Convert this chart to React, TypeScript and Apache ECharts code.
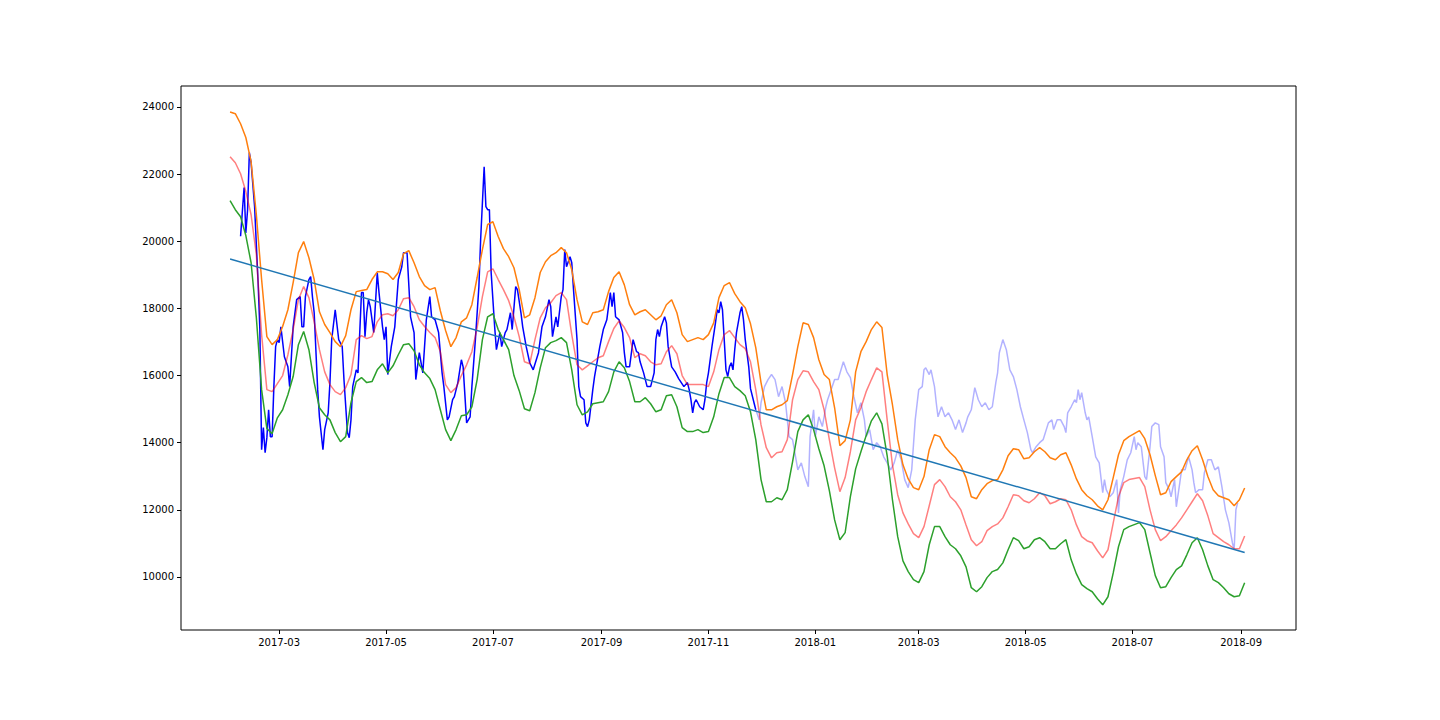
import React, { useEffect, useRef } from "react";
import * as echarts from "echarts";

// ---- data ----
const START_DATE = [2017, 2, 1]; // first sample of the rolling bands (year, month, day)
const BAND_STEP_DAYS = 3;

const upperBand = [
  23850, 23800, 23500, 23090, 22370, 20790, 18860, 17160, 16920, 17070,
  17460, 17960, 18770, 19660, 19990, 19510, 18860, 17900, 17520, 17280,
  17010, 16860, 17190, 17960, 18500, 18530, 18560, 18860, 19090, 19090,
  19030, 18860, 19070, 19630, 19720, 19360, 18950, 18680, 18560, 18620,
  17930, 17340, 16860, 17130, 17600, 17720, 18110, 18920, 19750, 20500,
  20580, 20140, 19780, 19540, 19210, 18560, 17720, 17810, 18320, 19070,
  19390, 19570, 19660, 19810, 19660, 19150, 18260, 17600, 17520, 17870,
  17900, 17960, 18500, 18920, 19090, 18700, 18110, 17810, 17900, 17960,
  17810, 17660, 17780, 18110, 18260, 17870, 17220, 17010, 17070, 17130,
  17070, 17220, 17570, 18320, 18680, 18770, 18440, 18200, 18020, 17540,
  16830, 15790, 14980, 14980, 15070, 15130, 15250, 16030, 16860, 17570,
  17520, 17130, 16470, 16030, 15880, 15040, 13910, 14060, 14680, 16110,
  16710, 17010, 17370, 17600, 17430, 16030, 15130, 14090, 13340, 12920,
  12660, 12600, 12990, 13790, 14240, 14180, 13880, 13700, 13550, 13310,
  12960, 12390, 12330, 12600, 12780, 12870, 12900, 13190, 13610, 13820,
  13790, 13520, 13550, 13730, 13850, 13730, 13550, 13490, 13640, 13700,
  13340, 12920, 12600, 12420, 12300, 12120, 12000, 12300, 12960, 13640,
  14060, 14180, 14270, 14360, 14120, 13640, 13020, 12450, 12510, 12840,
  12990, 13130, 13490, 13760, 13910, 13490, 12990, 12600, 12420, 12360,
  12300, 12120, 12300, 12650,
];

const rollingMean = [
  22520, 22340, 22010, 21480, 20790, 19600, 17220, 15580, 15520, 15760,
  16000, 16620, 17370, 18260, 18650, 18320, 17600, 16770, 16110, 15730,
  15520, 15430, 15640, 16030, 17070, 17190, 17100, 17160, 17600, 17810,
  17840, 17780, 17960, 18290, 18320, 18050, 17660, 17460, 17280, 17130,
  16710, 15730, 15490, 15640, 16000, 16320, 16710, 17430, 18350, 19090,
  19180, 18860, 18560, 18230, 17750, 17160, 16410, 16350, 17070, 17720,
  18020, 18170, 18380, 18470, 18260, 17220, 16320, 16170, 16290, 16410,
  16530, 16590, 17010, 17400, 17630, 17430, 17130, 16530, 16650, 16590,
  16410, 16320, 16350, 16710, 16890, 16650, 16000, 15730, 15730, 15730,
  15730, 15670, 16110, 16770, 17220, 17340, 17130, 16920, 16800, 16410,
  15580, 14530, 13850, 13550, 13700, 13730, 14090, 15280, 15880, 16140,
  16110, 15820, 15580, 14980, 14090, 13250, 12540, 12960, 13730, 14680,
  15040, 15520, 15880, 16230, 16110, 14680, 13340, 12450, 11910, 11580,
  11290, 11170, 11500, 12120, 12750, 12900, 12690, 12390, 12240, 12000,
  11550, 11110, 10930, 11050, 11380, 11500, 11580, 11760, 12090, 12450,
  12420, 12270, 12210, 12330, 12510, 12420, 12180, 12240, 12330, 12300,
  12000, 11550, 11200, 11080, 11020, 10780, 10570, 10810, 11610, 12390,
  12810, 12900, 12930, 12960, 12690, 12000, 11410, 11080, 11200, 11380,
  11550, 11760, 12000, 12240, 12480, 12270, 11820, 11290, 11170, 11050,
  10960, 10840, 10840, 11220,
];

const lowerBand = [
  21210, 20940, 20730, 20170, 19360, 17720, 15580, 14420, 14270, 14740,
  14980, 15430, 15970, 16920, 17310, 16770, 15790, 15040, 14830, 14680,
  14300, 14030, 14180, 15190, 15820, 15940, 15790, 15820, 16170, 16350,
  16080, 16290, 16620, 16920, 16950, 16740, 16320, 16080, 15910, 15580,
  14980, 14390, 14060, 14390, 14800, 14830, 15070, 15880, 17070, 17750,
  17840, 17370, 17070, 16770, 16000, 15550, 15010, 14950, 15490, 16230,
  16830, 16980, 17040, 17130, 16980, 16170, 15130, 14830, 14920, 15160,
  15190, 15220, 15520, 16110, 16410, 16230, 15820, 15220, 15220, 15340,
  15160, 14920, 14980, 15400, 15430, 15070, 14450, 14330, 14330, 14390,
  14300, 14330, 14770, 15460, 15940, 15940, 15670, 15550, 15400, 14920,
  14090, 12900, 12240, 12240, 12360, 12300, 12600, 13430, 14330, 14680,
  14830, 14390, 13820, 13310, 12570, 11700, 11110, 11320, 12390, 13220,
  13730, 14210, 14650, 14890, 14560, 13610, 12300, 11200, 10480, 10160,
  9920, 9830, 10160, 10960, 11500, 11500, 11200, 10960, 10840, 10630,
  10300, 9680, 9560, 9710, 9980, 10160, 10220, 10420, 10810, 11170,
  11080, 10840, 10900, 11110, 11170, 11050, 10840, 10840, 10990, 11110,
  10510, 10090, 9770, 9650, 9560, 9350, 9170, 9410, 10120, 10900,
  11410, 11500, 11560, 11620, 11410, 10720, 10040, 9680, 9710, 9980,
  10220, 10330, 10660, 11020, 11170, 10810, 10330, 9920, 9830, 9680,
  9500, 9410, 9440, 9830,
];

// observed series (days after START_DATE)
const trainDays = [
  6, 8, 9, 10, 11, 12, 14, 16, 17, 18, 19, 20, 21, 22, 23, 24, 25, 26, 27, 28,
  29, 31, 33, 34, 36, 38, 40, 41, 42, 43, 45, 46, 47, 48, 50, 51, 53, 54, 56, 57,
  58, 60, 62, 64, 65, 67, 68, 69, 70, 72, 73, 75, 76, 77, 78, 79, 80, 82, 84, 85,
  87, 88, 89, 90, 92, 94, 96, 98, 99, 101, 103, 105, 106, 108, 110, 112, 114, 115, 117, 119,
  121, 122, 124, 125, 127, 128, 130, 132, 133, 135, 137, 138, 140, 142, 143, 145, 146, 147, 148, 149,
  151, 152, 154, 155, 157, 158, 160, 161, 163, 164, 166, 167, 169, 171, 173, 176, 178, 180, 182, 183,
  184, 186, 187, 189, 190, 191, 192, 194, 195, 196, 198, 199, 200, 202, 203, 204, 205, 207, 208, 211,
  213, 215, 217, 218, 219, 220, 222, 224, 225, 226, 228, 230, 232, 233, 234, 236, 238, 240, 242, 243,
  244, 245, 246, 248, 249, 250, 252, 254, 256, 259, 261, 262, 263, 264, 265, 266, 268, 270, 271, 272,
  273, 275, 277, 278, 279, 280, 281, 282, 283, 284, 285, 286, 287, 288, 289, 291, 292, 293, 294, 296,
  297, 299, 300,
];
const trainValues = [
  20150, 21600, 20250, 20940, 22640, 22340, 21030, 18770, 17370, 13790, 14450, 13700, 14150, 14980, 14180, 14180, 15670, 16860, 17070, 16980,
  17450, 16560, 16260, 15670, 17450, 18260, 18350, 17450, 17450, 18350, 18860, 18950, 18350, 17870, 15580, 14770, 13790, 14390, 14890, 15790,
  17070, 17960, 17070, 16860, 15880, 14300, 14150, 14680, 15670, 16170, 16080, 18470, 18470, 17160, 17870, 18260, 18050, 17280, 19060, 18470,
  17450, 17070, 17450, 16030, 16860, 17450, 18860, 19240, 19660, 19660, 17750, 17280, 15880, 16680, 16080, 17660, 18350, 17750, 17660, 17280,
  16080, 15670, 14680, 14770, 15280, 15370, 15790, 16470, 16260, 14590, 14770, 15670, 17070, 18650, 20050, 22220, 21030, 20940, 20940, 19060,
  17450, 16770, 17280, 16860, 17280, 17370, 17870, 17370, 18650, 18560, 17870, 17450, 16860, 16380, 16170, 16680, 17450, 17750, 18260, 18050,
  17160, 17750, 17450, 18350, 18560, 19750, 19240, 19540, 19360, 18560, 17070, 15670, 15370, 15280, 14590, 14480, 14680, 15580, 15970, 16860,
  17370, 17660, 18470, 18050, 18470, 17750, 17660, 17280, 16680, 16260, 16260, 17070, 16710, 16680, 16410, 16080, 15670, 15670, 16080, 17070,
  17370, 17160, 17450, 17750, 17570, 16860, 16260, 16110, 15910, 15670, 15790, 15580, 15280, 14890, 15190, 15280, 15070, 14980, 15280, 15790,
  16080, 16860, 17570, 17960, 17870, 18200, 17960, 17070, 16170, 15970, 16260, 16380, 16170, 16770, 17280, 17870, 18050, 17660, 17070, 16260,
  15610, 15190, 14980,
];

const testDays = [
  300, 302, 303, 305, 307, 309, 311, 313, 315, 317, 319, 321, 322, 324, 326, 328, 330, 331, 333, 334,
  336, 338, 340, 341, 343, 345, 347, 350, 352, 354, 356, 358, 360, 362, 363, 365, 367, 369, 371, 373,
  375, 377, 379, 381, 383, 385, 387, 389, 391, 393, 395, 396, 397, 399, 400, 402, 403, 404, 406, 408,
  410, 412, 414, 416, 418, 420, 421, 423, 425, 427, 429, 431, 433, 435, 437, 438, 439, 441, 443, 445,
  447, 449, 451, 453, 455, 457, 458, 460, 462, 464, 467, 469, 470, 472, 474, 476, 477, 478, 480, 482,
  483, 484, 485, 486, 488, 489, 490, 492, 494, 496, 498, 499, 500, 502, 504, 506, 507, 508, 510, 512,
  514, 516, 517, 518, 520, 522, 523, 525, 526, 528, 530, 531, 533, 534, 536, 537, 539, 540, 542, 543,
  545, 547, 549, 550, 551, 553, 555, 556, 558, 560, 562, 564, 566, 568, 570, 572, 573, 574, 575,
];
const testValues = [
  14980, 14680, 15190, 15670, 15880, 16030, 15880, 15370, 15670, 15190, 14180, 14090, 13790, 13190, 13400, 12990, 12690, 14180, 14980, 14180,
  14770, 14480, 15070, 15280, 15580, 15880, 15880, 16410, 16110, 15940, 15370, 14890, 15190, 14680, 14180, 14390, 13790, 14000, 13880, 13580,
  13400, 13190, 13400, 13790, 13490, 12900, 12660, 13190, 14680, 15580, 15670, 16170, 16230, 16030, 16170, 15670, 15190, 14770, 15070, 14770,
  14890, 14680, 14390, 14680, 14300, 14590, 14770, 14980, 15640, 15280, 15070, 15190, 14980, 15070, 15790, 16080, 16680, 17070, 16770, 16170,
  15970, 15580, 15070, 14680, 14300, 13790, 13700, 13880, 14000, 14090, 14590, 14680, 14390, 14680, 14680, 14480, 14300, 14890, 15070, 15280,
  15190, 15580, 15280, 15490, 14890, 14680, 14770, 14180, 13580, 13400, 12510, 12900, 12600, 12390, 12510, 12900, 11910, 12600, 12990, 13490,
  13700, 14180, 13790, 14000, 13880, 12990, 12900, 13880, 14480, 14590, 14540, 13880, 13580, 12810, 12600, 12390, 12900, 12090, 12810, 13190,
  13190, 13580, 13190, 12810, 12510, 12600, 12600, 13100, 13490, 13490, 13190, 13280, 12690, 12000, 11610, 11020, 10810, 12000, 12210,
];

const trendDays = [0, 579];
const trendValues = [19470, 10730];

const xTickLabels = [
  "2017-03", "2017-05", "2017-07", "2017-09", "2017-11",
  "2018-01", "2018-03", "2018-05", "2018-07", "2018-09",
];
const yTicks = [10000, 12000, 14000, 16000, 18000, 20000, 22000, 24000];
const X_MIN_DAY = -28;
const X_MAX_DAY = 608.3;
const Y_MIN = 8420;
const Y_MAX = 24625;

// ---- helpers ----
const DAY_MS = 86400000;
const T0 = Date.UTC(START_DATE[0], START_DATE[1] - 1, START_DATE[2]);
const dayToTs = (d: number) => T0 + d * DAY_MS;
const labelToTs = (s: string) => {
  const [y, m] = s.split("-").map(Number);
  return Date.UTC(y, m - 1, 1);
};
const fmtMonth = (v: number) => {
  const d = new Date(v);
  return `${d.getUTCFullYear()}-${String(d.getUTCMonth() + 1).padStart(2, "0")}`;
};

const FONT = "DejaVu Sans";

export default function App() {
  const ref = useRef<HTMLDivElement>(null);

  useEffect(() => {
    if (!ref.current) return;
    const chart = echarts.init(ref.current, undefined, { renderer: "svg" });

    const bandData = (arr: number[]) =>
      arr.map((v, i) => [dayToTs(i * BAND_STEP_DAYS), v]);
    const pairData = (days: number[], vals: number[]) =>
      days.map((d, i) => [dayToTs(d), vals[i]]);

    const xTicks = xTickLabels.map(labelToTs);

    const line = (name: string, data: any[], color: string) => ({
      name,
      type: "line",
      data,
      showSymbol: false,
      symbol: "none",
      lineStyle: { color, width: 1.5 },
      emphasis: { disabled: true },
    });

    chart.setOption({
      animation: false,
      backgroundColor: "#ffffff",
      grid: {
        left: 181,
        top: 86,
        width: 1115,
        height: 544,
        show: true,
        borderColor: "#000000",
        borderWidth: 1,
        backgroundColor: "transparent",
      },
      xAxis: {
        type: "value",
        min: dayToTs(X_MIN_DAY),
        max: dayToTs(X_MAX_DAY),
        axisLine: { show: false },
        splitLine: { show: false },
        axisTick: {
          show: true,
          inside: false,
          length: 4,
          customValues: xTicks,
          lineStyle: { color: "#000000", width: 1 },
        },
        axisLabel: {
          customValues: xTicks,
          formatter: (v: number) => fmtMonth(v),
          color: "#000000",
          fontFamily: FONT,
          fontSize: 10,
          margin: 7,
        },
      },
      yAxis: {
        type: "value",
        min: Y_MIN,
        max: Y_MAX,
        axisLine: { show: false },
        splitLine: { show: false },
        axisTick: {
          show: true,
          inside: false,
          length: 4,
          customValues: yTicks,
          lineStyle: { color: "#000000", width: 1 },
        },
        axisLabel: {
          customValues: yTicks,
          formatter: (v: number) => String(v),
          color: "#000000",
          fontFamily: FONT,
          fontSize: 10,
          margin: 7,
        },
      },
      series: [
        line("train", pairData(trainDays, trainValues), "#0000ff"),
        line("test", pairData(testDays, testValues), "rgba(0,0,255,0.3)"),
        line("rolling mean", bandData(rollingMean), "rgba(255,0,0,0.5)"),
        line("upper band", bandData(upperBand), "#ff7f0e"),
        line("lower band", bandData(lowerBand), "#2ca02c"),
        line("trend", pairData(trendDays, trendValues), "#1f77b4"),
      ],
    });

    return () => chart.dispose();
  }, []);

  return (
    <div
      ref={ref}
      style={{
        position: "fixed",
        left: 0,
        top: 0,
        width: 1440,
        height: 720,
        background: "#ffffff",
      }}
    />
  );
}
